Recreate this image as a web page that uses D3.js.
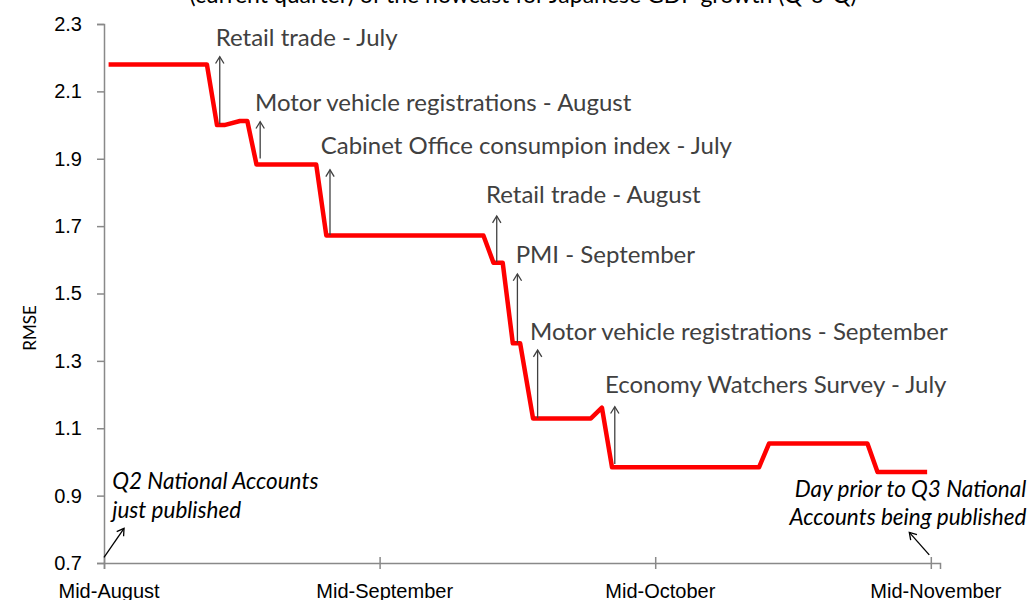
<!DOCTYPE html>
<html>
<head>
<meta charset="utf-8">
<script src="https://cdn.jsdelivr.net/npm/d3@7"></script>
<style>
  body { margin: 0; background: #fff; }
  svg { font-family: Lato, "Open Sans", sans-serif; }
</style>
</head>
<body>
<svg id="chart" width="1031" height="600"></svg>
<script>
// tick labels on the category axis (day index since mid-August)
const tickDays = [0, 30, 60, 90];
const tickLabels = ["Mid-August", "Mid-September", "Mid-October", "Mid-November"];
const yTicks = [0.7, 0.9, 1.1, 1.3, 1.5, 1.7, 1.9, 2.1, 2.3];

// RMSE path (day, value)
const days = [0.5, 11.2, 12.3, 13.1, 14.8, 15.6, 16.6, 23.1, 24.2, 41.3, 42.4, 43.4, 44.5, 45.3, 46.7, 53.0, 54.2, 55.3, 71.3, 72.4, 83.1, 84.2, 89.6];
const rmse = [2.18, 2.18, 2.0, 2.0, 2.012, 2.012, 1.883, 1.883, 1.672, 1.672, 1.591, 1.591, 1.352, 1.352, 1.129, 1.129, 1.161, 0.984, 0.984, 1.055, 1.055, 0.97, 0.97];

// data releases: arrow day, arrow from/to values, label anchor (day, value)
const releases = ["Retail trade - July", "Motor vehicle registrations - August", "Cabinet Office consumpion index - July",
  "Retail trade - August", "PMI - September", "Motor vehicle registrations - September", "Economy Watchers Survey - July"];
const releaseDay = [12.6, 17.0, 24.6, 42.75, 45.0, 47.2, 55.6];
const arrowFrom = [2.003, 1.901, 1.674, 1.594, 1.354, 1.13, 0.994];
const arrowTo = [2.203, 2.01, 1.867, 1.73, 1.558, 1.332, 1.164];
const labelDay = [12.16, 16.44, 23.59, 41.58, 44.81, 46.37, 54.53];
const labelValue = [2.235, 2.043, 1.913, 1.77, 1.59, 1.362, 1.204];

const svg = d3.select("#chart");
const margin = { top: 24, left: 104 };
const width = 836, height = 539;
const g = svg.append("g").attr("transform", `translate(${margin.left},${margin.top})`);

const x = d3.scaleLinear().domain([0, 91]).range([0, width]);
const y = d3.scaleLinear().domain([0.7, 2.3]).range([height, 0]);

// title (second line, mostly off the top edge)
svg.append("text")
  .attr("x", 523).attr("y", 3)
  .attr("text-anchor", "middle")
  .style("font-size", "23px").style("fill", "#000")
  .text("(current quarter) of the nowcast for Japanese GDP growth (Q-o-Q)");

// y axis
const yAxis = g.append("g")
  .call(d3.axisLeft(y).tickValues(yTicks).tickFormat(d3.format(".1f")).tickSize(7).tickPadding(15));
// x axis
const xAxis = g.append("g")
  .attr("transform", `translate(0,${height})`)
  .call(d3.axisBottom(x).tickValues(tickDays).tickFormat((d, i) => tickLabels[i]).tickSize(6));

[yAxis, xAxis].forEach(a => {
  a.select(".domain").attr("stroke", "#898989").attr("stroke-width", 1.5);
  a.selectAll(".tick line").attr("stroke", "#898989").attr("stroke-width", 1.5);
  a.selectAll(".tick text").style("font-size", "20px").style("fill", "#000");
});
xAxis.selectAll(".tick line").attr("y1", -6).attr("y2", 6);
xAxis.selectAll(".tick text").attr("x", x(0.5) - x(0)).attr("y", 21);

svg.append("text")
  .attr("transform", "translate(36,328) rotate(-90)")
  .attr("text-anchor", "middle")
  .style("font-size", "17px")
  .text("RMSE");

// the RMSE line
const line = d3.line().x((d, i) => x(d)).y((d, i) => y(rmse[i]));
g.append("path")
  .datum(days)
  .attr("d", line)
  .attr("fill", "none")
  .attr("stroke", "#ff0000")
  .attr("stroke-width", 4.5)
  .attr("stroke-linejoin", "round");

// arrow helper: shaft from (x1,y1) to tip (x2,y2) with open head
function arrow(x1, y1, x2, y2, color) {
  const a = Math.atan2(y2 - y1, x2 - x1);
  const len = 8, spread = 0.55;
  const head = [
    [x2 - len * Math.cos(a - spread), y2 - len * Math.sin(a - spread)],
    [x2, y2],
    [x2 - len * Math.cos(a + spread), y2 - len * Math.sin(a + spread)]
  ];
  g.append("line")
    .attr("x1", x1).attr("y1", y1).attr("x2", x2).attr("y2", y2)
    .attr("stroke", color).attr("stroke-width", 1.3);
  g.append("path")
    .attr("d", d3.line()(head))
    .attr("fill", "none").attr("stroke", color).attr("stroke-width", 1.3);
}

releases.forEach((name, i) => {
  arrow(x(releaseDay[i]), y(arrowFrom[i]), x(releaseDay[i]), y(arrowTo[i]), "#404040");
  g.append("text")
    .attr("x", x(labelDay[i])).attr("y", y(labelValue[i]))
    .style("font-size", "24px").style("fill", "#404040")
    .text(name);
});

// start / end notes
const startNote = ["Q2 National Accounts", "just published"];
const endNote = ["Day prior to Q3 National", "Accounts being published"];

startNote.forEach((t, i) => {
  g.append("text")
    .attr("x", x(0.9)).attr("y", y(0.919) + i * 28.5)
    .style("font-size", "22.5px").style("font-style", "italic").style("fill", "#000")
    .text(t);
});
arrow(x(0), y(0.717), x(2.18), y(0.803), "#000");

endNote.forEach((t, i) => {
  g.append("text")
    .attr("x", x(100.4)).attr("y", y(0.897) + i * 28.5)
    .attr("text-anchor", "end")
    .style("font-size", "22.5px").style("font-style", "italic").style("fill", "#000")
    .text(t);
});
arrow(x(89.83), y(0.724), x(87.66), y(0.791), "#000");
</script>
</body>
</html>
